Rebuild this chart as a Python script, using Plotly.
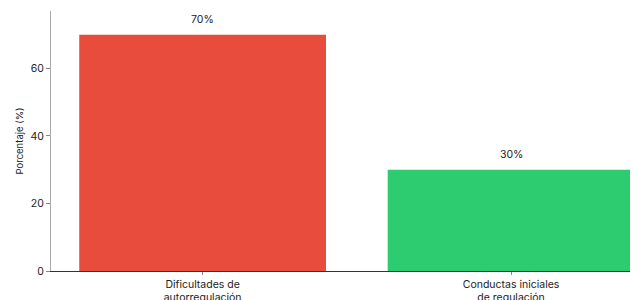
import plotly.graph_objects as go

categories = ["Dificultades de<br>autorregulación", "Conductas iniciales<br>de regulación"]
values = [70, 30]
labels = ["70%", "30%"]
colors = ["#E74C3C", "#2ECC71"]

FONT = "Inter, Roboto, sans-serif"

fig = go.Figure(go.Bar(
    x=[0, 1], y=values, marker=dict(color=colors, line=dict(width=0)),
    width=0.8, hoverinfo="skip",
))

for i, (v, t) in enumerate(zip(values, labels)):
    fig.add_annotation(x=i, y=v, text=t, showarrow=False, yanchor="bottom",
                       yshift=7, font=dict(size=10.5, color="#222", family=FONT))

# page body has an 8px margin, so figure coordinates are shifted by 8px
fig.update_layout(
    width=638, height=300,
    margin=dict(l=43, r=0, t=3, b=37),
    paper_bgcolor="white", plot_bgcolor="white",
    showlegend=False,
    font=dict(family=FONT, size=10.5, color="#222"),
)
fig.update_xaxes(
    range=[-0.4916, 1.4375], tickmode="array", tickvals=[0, 1], ticktext=categories,
    showline=True, linecolor="#333", linewidth=1, ticks="outside", ticklen=3,
    tickcolor="#888", showgrid=False, zeroline=False, automargin=False,
    tickfont=dict(size=10.5, color="#222", family=FONT),
)
fig.update_yaxes(
    range=[0, 77], tickvals=[0, 20, 40, 60], showline=True, linecolor="#aaa",
    linewidth=1, ticks="outside", ticklen=4, tickcolor="#888", showgrid=False,
    zeroline=False, automargin=False, tickfont=dict(size=10.5, color="#222", family=FONT),
    title=dict(text="Porcentaje (%)", font=dict(size=9.5, color="#222", family=FONT), standoff=5),
)

fig.write_html("out.html")
